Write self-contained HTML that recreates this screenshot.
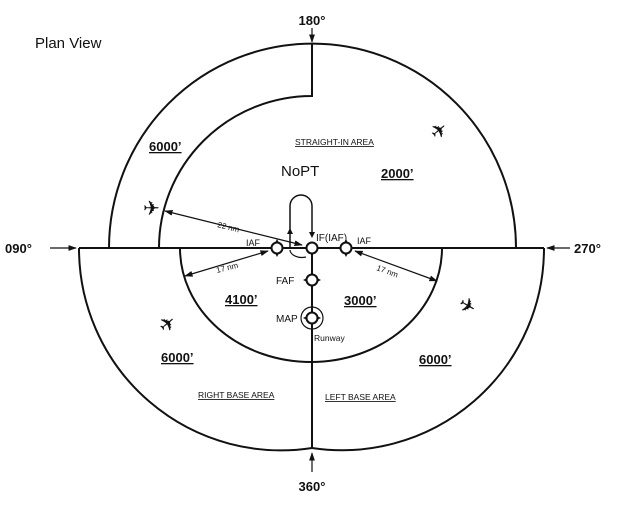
<!DOCTYPE html>
<html><head><style>body{margin:0;background:#fff}svg{display:block}text{font-family:"Liberation Sans",sans-serif;fill:#111}</style></head><body>
<svg width="620" height="507" viewBox="0 0 620 507">
<defs><marker id="a" viewBox="0 0 10 10" refX="9" refY="5" markerWidth="7" markerHeight="7" orient="auto-start-reverse"><path d="M0,1.5L10,5L0,8.5z" fill="#111"/></marker></defs>
<g fill="none" stroke="#111" stroke-width="2">
<path d="M109,248 A203,204 0 0 1 516,248"/>
<path d="M159,248 A153,152 0 0 1 312,96 L312,44"/>
<path d="M79,248 L544,248"/>
<path d="M79,248 A202,202 0 0 0 312,448"/>
<path d="M544,248 A202,202 0 0 1 312,448"/>
<path d="M180,248 A131,114 0 0 0 442,248"/>
<path d="M312,248 L312,448"/>
</g>
<g stroke="#111" stroke-width="1.2" fill="none">
<line x1="312" y1="28" x2="312" y2="42" marker-end="url(#a)"/>
<line x1="312" y1="472" x2="312" y2="453" marker-end="url(#a)"/>
<line x1="50" y1="248" x2="76" y2="248" marker-end="url(#a)"/>
<line x1="570" y1="248" x2="547" y2="248" marker-end="url(#a)"/>
<line x1="165" y1="211" x2="302" y2="245" marker-start="url(#a)" marker-end="url(#a)"/>
<line x1="185" y1="276" x2="268" y2="251" marker-start="url(#a)" marker-end="url(#a)"/>
<line x1="355" y1="251" x2="437" y2="281" marker-start="url(#a)" marker-end="url(#a)"/>
<circle cx="312" cy="318" r="11"/>
</g>
<path d="M290,248 L290,206 A11,11 0 0 1 312,206 L312,236" fill="none" stroke="#111" stroke-width="1.5"/>
<path d="M290,250 A12,8 0 0 0 306,257" fill="none" stroke="#111" stroke-width="1.2"/>
<path d="M287,234 l3,-6 l3,6z M309,232 l3,6 l3,-6z" fill="#111"/>
<g fill="#fff" stroke="#111" stroke-width="2">
<circle cx="277" cy="248" r="5.5"/><circle cx="312" cy="248" r="5.5"/><circle cx="346" cy="248" r="5.5"/><circle cx="312" cy="280" r="5.5"/><circle cx="312" cy="318" r="5.5"/>
</g>
<g fill="#111">
<path d="M277,239l2,4h-4z M277,257l2,-4h-4z M346,239l2,4h-4z M346,257l2,-4h-4z M303,280l4,2v-4z M321,280l-4,2v-4z M303,318l4,2v-4z M321,318l-4,2v-4z"/>
</g>
<text x="35" y="48" font-size="15">Plan View</text>
<text x="312" y="25" font-size="13" font-weight="bold" text-anchor="middle">180°</text>
<text x="312" y="491" font-size="13" font-weight="bold" text-anchor="middle">360°</text>
<text x="5" y="253" font-size="13" font-weight="bold">090°</text>
<text x="574" y="253" font-size="13" font-weight="bold">270°</text>
<text x="149" y="151" font-size="13" font-weight="bold" text-decoration="underline">6000’</text>
<text x="381" y="178" font-size="13" font-weight="bold" text-decoration="underline">2000’</text>
<text x="225" y="304" font-size="13" font-weight="bold" text-decoration="underline">4100’</text>
<text x="344" y="305" font-size="13" font-weight="bold" text-decoration="underline">3000’</text>
<text x="161" y="362" font-size="13" font-weight="bold" text-decoration="underline">6000’</text>
<text x="419" y="364" font-size="13" font-weight="bold" text-decoration="underline">6000’</text>
<text x="295" y="145" font-size="8.5" text-decoration="underline">STRAIGHT-IN AREA</text>
<text x="198" y="398" font-size="8.5" text-decoration="underline">RIGHT BASE AREA</text>
<text x="325" y="400" font-size="8.5" text-decoration="underline">LEFT BASE AREA</text>
<text x="281" y="176" font-size="15">NoPT</text>
<text x="246" y="246" font-size="9">IAF</text>
<text x="316" y="241" font-size="10">IF(IAF)</text>
<text x="357" y="244" font-size="9">IAF</text>
<text x="276" y="284" font-size="10">FAF</text>
<text x="276" y="322" font-size="10">MAP</text>
<text x="314" y="341" font-size="8.5">Runway</text>
<text x="217" y="227" font-size="8" transform="rotate(14 217 227)">22 nm</text>
<text x="217" y="273" font-size="8" transform="rotate(-14 217 273)">17 nm</text>
<text x="376" y="270" font-size="8" transform="rotate(20 376 270)">17 nm</text>
<text x="143" y="215" font-size="20" font-family="DejaVu Sans">✈</text>
<text x="430" y="138" font-size="20" font-family="DejaVu Sans" transform="rotate(-40 438 130)">✈</text>
<text x="158" y="330" font-size="20" font-family="DejaVu Sans" transform="rotate(-40 168 322)">✈</text>
<text x="459" y="313" font-size="20" font-family="DejaVu Sans" transform="rotate(30 468 306)">✈</text>
</svg>
</body></html>
